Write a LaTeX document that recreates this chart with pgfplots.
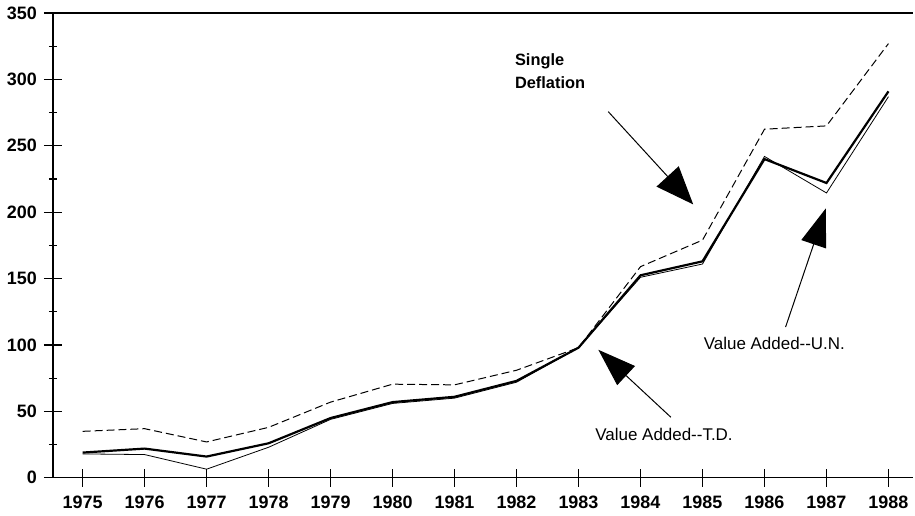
\documentclass[border=0pt]{standalone}
\usepackage{pgfplots}
\pgfplotsset{compat=1.18}
\usepackage{fontspec}
\setmainfont{Liberation Sans}
\usetikzlibrary{arrows.meta}
\pgfplotstableread{
year SD TD UN
1975 35 19 18
1976 37 22 17.5
1977 27 16 6.5
1978 38 26 23
1979 57 45 44
1980 70.5 57 56
1981 70 61 60
1982 81 73 72
1983 98 98 98
1984 159 152.5 151
1985 179 163 161
1986 262.5 240 242
1987 265 222 214.5
1988 327 291 287
}\datatable
\begin{document}
\begin{tikzpicture}
\begin{axis}[
  scale only axis,
  width=431pt, height=233pt,
  xmin=1974.52, xmax=1988.39,
  ymin=0, ymax=350,
  axis x line=bottom, axis y line=left,
  axis line style={-, black},
  y axis line style={line width=1pt},
  xtick={1975,...,1988},
  ytick={0,50,...,350},
  minor ytick={25,75,...,325},
  tick align=center,
  major tick length=9pt,
  minor tick length=4pt,
  tick style={black, line width=0.6pt},
  xticklabel style={/pgf/number format/1000 sep={}, font=\fontsize{9}{10}\selectfont\bfseries, yshift=-1pt},
  yticklabel style={font=\fontsize{9}{10}\selectfont\bfseries},
  /pgf/number format/assume math mode=true,
  clip=false,
]
\addplot[black, line width=0.5pt, dash pattern=on 4pt off 2pt] table[x=year,y=SD] {\datatable};
\addplot[black, line width=1.1pt] table[x=year,y=TD] {\datatable};
\addplot[black, line width=0.4pt] table[x=year,y=UN] {\datatable};
\draw[black, line width=0.6pt] (rel axis cs:0,1) -- (rel axis cs:1,1);
% annotations
\node[anchor=west, inner sep=0pt, font=\fontsize{8.2}{9.5}\selectfont\bfseries, align=left] at (axis cs:1981.97,306) {Single\\[2pt]Deflation};
\draw[black, line width=0.5pt, -{Triangle[length=19pt,width=15pt]}] (axis cs:1983.48,275.7) -- (axis cs:1984.85,205.9);
\draw[black, line width=0.5pt, -{Triangle[length=19pt,width=13pt]}] (axis cs:1986.34,113.5) -- (axis cs:1986.99,202.9);
\draw[black, line width=0.5pt, -{Triangle[length=19pt,width=13pt]}] (axis cs:1984.49,45.6) -- (axis cs:1983.32,96.4);
\node[font=\fontsize{8.5}{10}\selectfont] at (axis cs:1986.16,101) {Value Added-{}-U.N.};
\node[font=\fontsize{8.5}{10}\selectfont] at (axis cs:1984.38,33) {Value Added-{}-T.D.};
\end{axis}
\path ([xshift=-26.5pt,yshift=-17pt]current axis.south west) rectangle ([yshift=6.5pt]current axis.north east);
\end{tikzpicture}
\end{document}
